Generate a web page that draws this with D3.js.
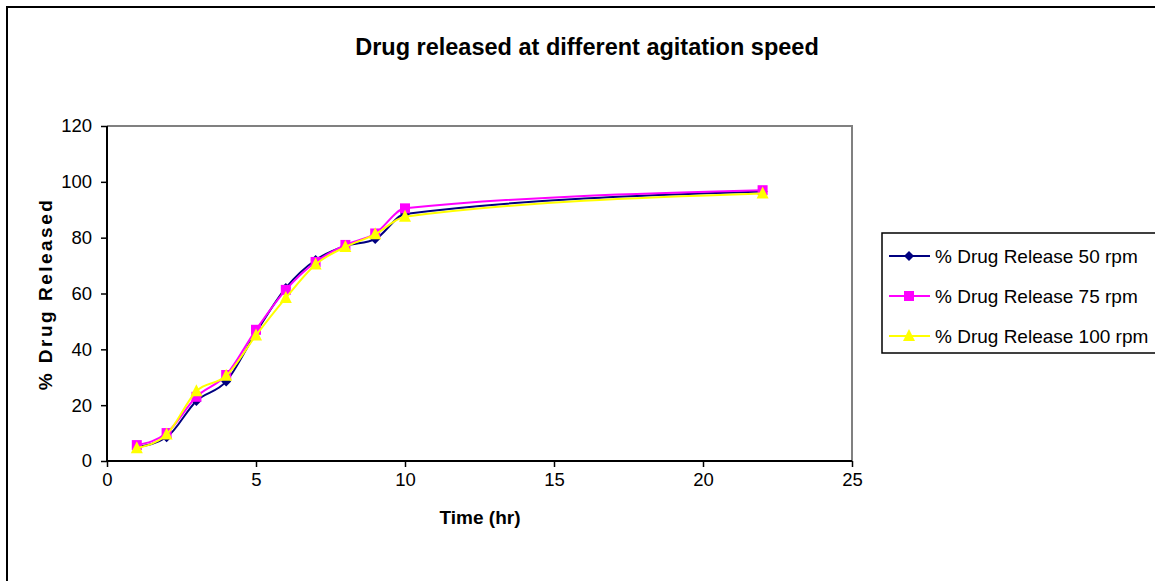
<!DOCTYPE html>
<html>
<head>
<meta charset="utf-8">
<script src="https://cdn.jsdelivr.net/npm/d3@7"></script>
<style>
  body { margin: 0; background: #fff; }
  svg { display: block; font-family: 'Liberation Sans', Arial, sans-serif; }
</style>
</head>
<body>
<div id="chart"></div>
<script>
const times = [1, 2, 3, 4, 5, 6, 7, 8, 9, 10, 22]
const rpm50 = [5, 8.5, 21.5, 28.5, 46, 62, 72, 77, 79.5, 88.5, 96.5]
const rpm75 = [5.7, 10, 23, 30.8, 47, 61.3, 71.3, 77.4, 81.5, 90.5, 97]
const rpm100 = [4.6, 9.5, 25, 30.5, 45, 58.4, 70.4, 76.7, 81.2, 87.5, 95.8]
const seriesNames = ['% Drug Release 50 rpm', '% Drug Release 75 rpm', '% Drug Release 100 rpm']
const xTicks = [0, 5, 10, 15, 20, 25]
const yTicks = [0, 20, 40, 60, 80, 100, 120]

const series = [
  { name: seriesNames[0], values: rpm50, color: '#000080', shape: 'diamond' },
  { name: seriesNames[1], values: rpm75, color: '#FF00FF', shape: 'square' },
  { name: seriesNames[2], values: rpm100, color: '#FFFF00', shape: 'triangle' }
]

const margin = { top: 126, left: 107 }
const width = 852 - 107
const height = 461 - 126

const root = d3
  .select('#chart')
  .append('svg')
  .attr('width', 1155)
  .attr('height', 581)

// outer chart frame
root
  .append('rect')
  .attr('x', 7)
  .attr('y', 7)
  .attr('width', 1170)
  .attr('height', 600)
  .attr('fill', 'none')
  .attr('stroke', '#000')
  .attr('stroke-width', 2)

root
  .append('text')
  .attr('x', 587)
  .attr('y', 55)
  .attr('text-anchor', 'middle')
  .attr('font-size', 23.5)
  .attr('font-weight', 'bold')
  .text('Drug released at different agitation speed')

const svg = root
  .append('g')
  .attr('transform', 'translate(' + margin.left + ',' + margin.top + ')')

const x = d3.scaleLinear().domain([0, 25]).range([0, width])
const y = d3.scaleLinear().domain([0, 120]).range([height, 0])

// gray top/right plot border
svg
  .append('path')
  .attr('d', `M0,0H${width}V${height}`)
  .attr('fill', 'none')
  .attr('stroke', '#808080')
  .attr('stroke-width', 2)

const yAxis = d3.axisLeft(y).tickValues(yTicks).tickSize(6).tickPadding(9)
const xAxis = d3.axisBottom(x).tickValues(xTicks).tickSize(6).tickPadding(6)

svg
  .append('g')
  .attr('class', 'y-axis')
  .call(yAxis)
svg
  .append('g')
  .attr('class', 'x-axis')
  .attr('transform', 'translate(0,' + height + ')')
  .call(xAxis)

svg.selectAll('.domain').attr('stroke', '#000').attr('stroke-width', 2)
svg.selectAll('.tick line').attr('stroke', '#000').attr('stroke-width', 1.5)
svg.selectAll('.tick text').attr('font-size', 18.5).attr('fill', '#000')
svg.selectAll('.x-axis .domain').attr('d', `M0,0H${width}`)
svg.selectAll('.y-axis .domain').attr('d', `M0,0V${height}`)

root
  .append('text')
  .attr('x', 480)
  .attr('y', 524)
  .attr('text-anchor', 'middle')
  .attr('font-size', 19)
  .attr('font-weight', 'bold')
  .text('Time (hr)')

root
  .append('text')
  .attr('transform', 'translate(52,294) rotate(-90)')
  .attr('text-anchor', 'middle')
  .attr('font-size', 19)
  .attr('font-weight', 'bold')
  .attr('letter-spacing', 2.5)
  .text('% Drug Released')

const line = d3
  .line()
  .x((d, i) => x(times[i]))
  .y(d => y(d))
  .curve(d3.curveMonotoneX)

function drawMarker(g, shape, color) {
  if (shape === 'diamond') {
    g.append('path').attr('d', 'M0,-5L5,0L0,5L-5,0Z').attr('fill', color)
  } else if (shape === 'square') {
    g.append('rect').attr('x', -5).attr('y', -5).attr('width', 10).attr('height', 10).attr('fill', color)
  } else {
    g.append('path').attr('d', 'M0,-7L6,5L-6,5Z').attr('fill', color)
  }
}

series.forEach(s => {
  svg
    .append('path')
    .datum(s.values)
    .attr('d', line)
    .attr('fill', 'none')
    .attr('stroke', s.color)
    .attr('stroke-width', 2)

  s.values.forEach((v, i) => {
    const g = svg.append('g').attr('transform', `translate(${x(times[i])},${y(v)})`)
    drawMarker(g, s.shape, s.color)
  })
})

// legend
const legend = root.append('g').attr('transform', 'translate(882,233)')
legend
  .append('rect')
  .attr('width', 290)
  .attr('height', 120)
  .attr('fill', '#fff')
  .attr('stroke', '#000')
  .attr('stroke-width', 1.5)

series.forEach((s, i) => {
  const row = legend.append('g').attr('transform', `translate(0,${23 + i * 40})`)
  row
    .append('line')
    .attr('x1', 7)
    .attr('x2', 48)
    .attr('stroke', s.color)
    .attr('stroke-width', 2)
  drawMarker(row.append('g').attr('transform', 'translate(27,0)'), s.shape, s.color)
  row
    .append('text')
    .attr('x', 53)
    .attr('y', 7)
    .attr('font-size', 19)
    .text(s.name)
})
</script>
</body>
</html>
